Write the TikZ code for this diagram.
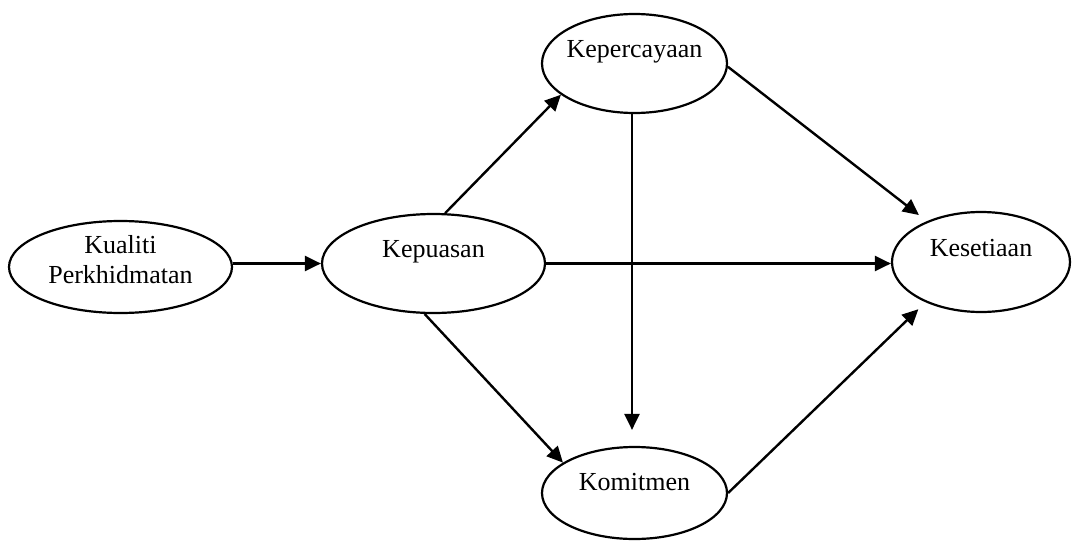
\documentclass[tikz,border=0pt]{standalone}
\usepackage{fontspec}
\setmainfont{Liberation Serif}
\usetikzlibrary{shapes.geometric,arrows.meta}
\begin{document}
\begin{tikzpicture}[x=1pt,y=-1pt,
  var/.style={draw,ellipse,line width=2.2pt,inner sep=0pt},
  txt/.style={font=\fontsize{26}{30}\selectfont},
  arr/.style={line width=2.4pt,-{Triangle[length=16pt,width=15pt]}}]
\useasboundingbox (0,0) rectangle (1072,541);
\node[var,minimum width=223pt,minimum height=92pt,
  label={[txt,align=center,yshift=7.5pt]center:Kualiti\\Perkhidmatan}] (kualiti) at (120.5,267) {};
\node[var,minimum width=223pt,minimum height=99pt,
  label={[txt,anchor=base,yshift=11.5pt]center:Kepuasan}] (kepuasan) at (433.5,263.5) {};
\node[var,minimum width=185pt,minimum height=99pt,
  label={[txt,anchor=base,yshift=11.5pt]center:Kepercayaan}] (kepercayaan) at (634.5,63.5) {};
\node[var,minimum width=185pt,minimum height=92pt,
  label={[txt,anchor=base,yshift=11pt]center:Komitmen}] (komitmen) at (634.5,493) {};
\node[var,minimum width=178pt,minimum height=100pt,
  label={[txt,anchor=base,yshift=14pt]center:Kesetiaan}] (kesetiaan) at (981,262) {};
\draw[arr] (kualiti.east |- kepuasan.west) -- (kepuasan.west);
\draw[arr] (kepuasan.77) -- (kepercayaan.203);
\draw[arr] (kepuasan.east) -- (kepuasan.east -| kesetiaan.west);
\draw[arr] (kepuasan.260) -- (komitmen.157);
\draw[arr,shorten >=10pt] (kepercayaan.358) -- (kesetiaan.143);
\draw[arr,shorten >=16pt] ([xshift=-2.5pt]kepercayaan.south) -- ([xshift=-2.5pt]komitmen.north);
\draw[arr,shorten >=10pt] (komitmen.east) -- (kesetiaan.216);
\end{tikzpicture}
\end{document}
